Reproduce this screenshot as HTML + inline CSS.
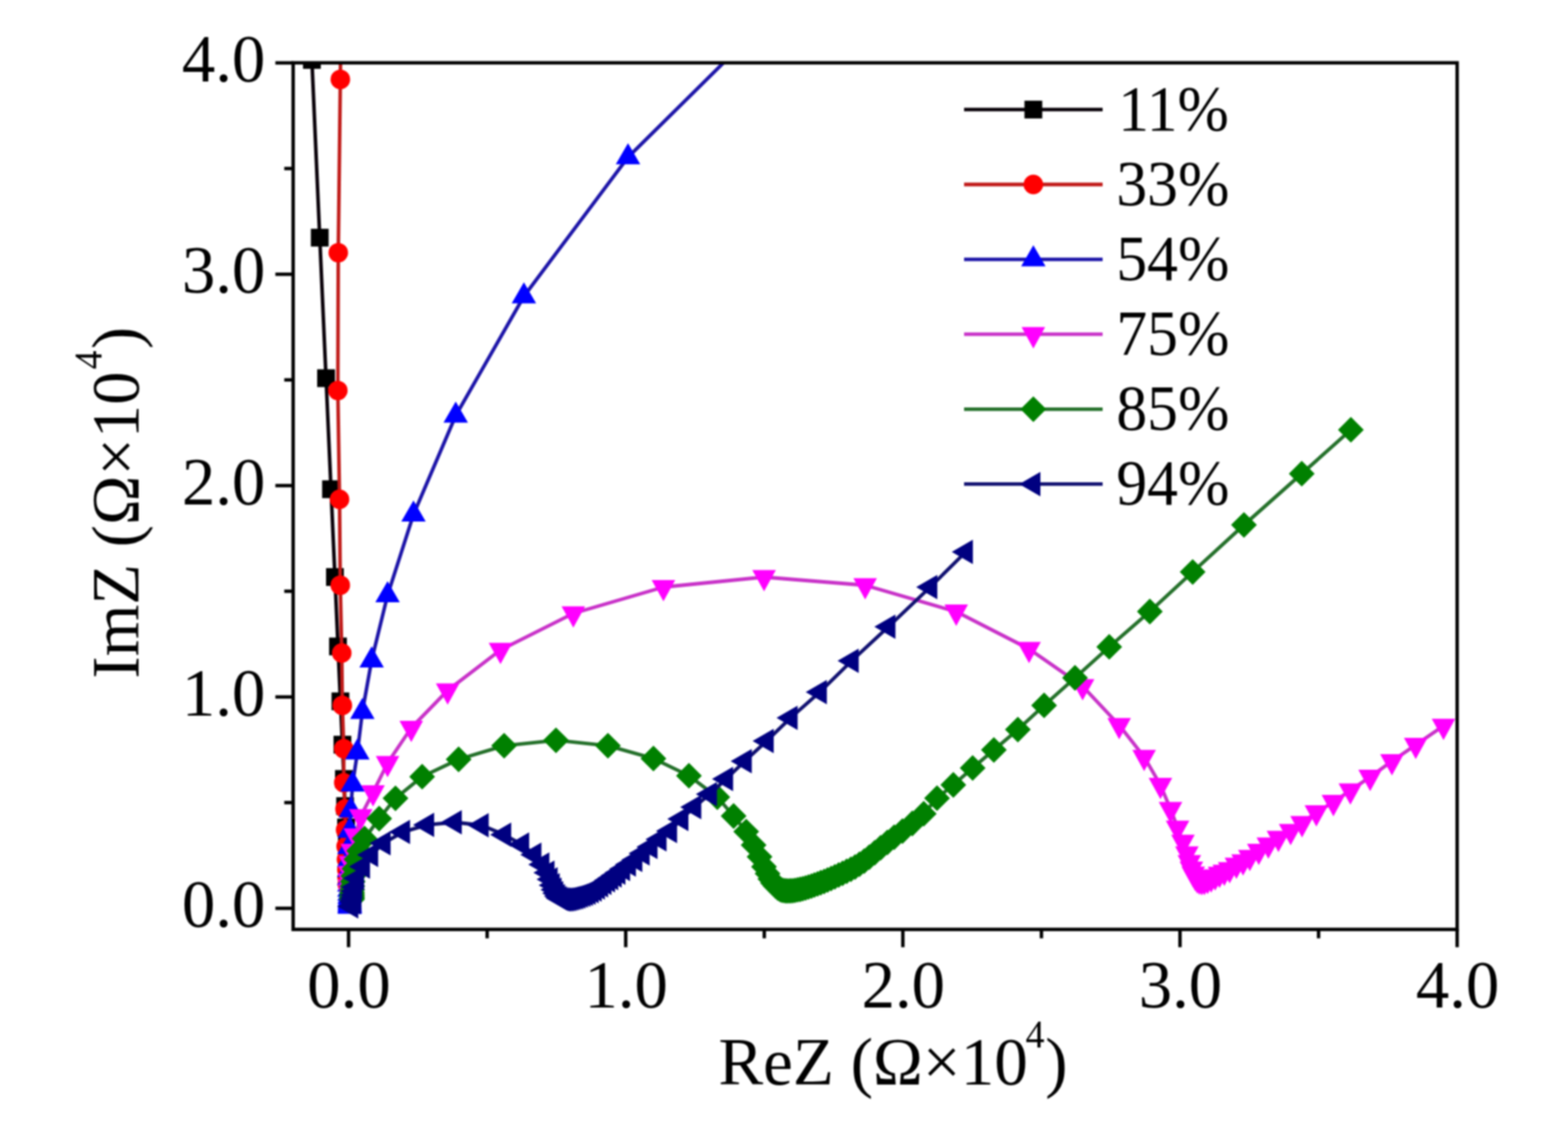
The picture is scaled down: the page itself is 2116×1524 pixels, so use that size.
<!DOCTYPE html>
<html><head><meta charset="utf-8"><style>
html,body{margin:0;padding:0;background:#fff;}
svg{display:block;filter:blur(0.8px);}
text{font-family:"Liberation Serif", "Times New Roman", serif;fill:#000;}
</style></head><body>
<svg width="2116" height="1524" viewBox="0 0 2116 1524">
<rect width="2116" height="1524" fill="#fff"/>
<defs><clipPath id="pc"><rect x="395.6" y="84.8" width="1570.8000000000002" height="1169.8"/></clipPath></defs>
<g clip-path="url(#pc)">
<polyline points="407.3,-222.6 420.9,80.9 431.5,320.8 440.0,510.5 446.7,660.4 452.0,778.9 456.1,872.6 459.4,946.7 462.1,1005.2 464.1,1051.5 465.7,1088.1 467.0,1117.0 468.1,1139.8 468.9,1157.9 469.5,1172.2 470.0,1183.5 470.4,1192.4" fill="none" stroke="#080008" stroke-width="4.8" stroke-linejoin="round"/>
<g fill="#000000"><rect x="458.4" y="1180.4" width="24" height="24"/><rect x="458.0" y="1171.5" width="24" height="24"/><rect x="457.5" y="1160.2" width="24" height="24"/><rect x="456.9" y="1145.9" width="24" height="24"/><rect x="456.1" y="1127.8" width="24" height="24"/><rect x="455.0" y="1105.0" width="24" height="24"/><rect x="453.7" y="1076.1" width="24" height="24"/><rect x="452.1" y="1039.5" width="24" height="24"/><rect x="450.1" y="993.2" width="24" height="24"/><rect x="447.4" y="934.7" width="24" height="24"/><rect x="444.1" y="860.6" width="24" height="24"/><rect x="440.0" y="766.9" width="24" height="24"/><rect x="434.7" y="648.4" width="24" height="24"/><rect x="428.0" y="498.5" width="24" height="24"/><rect x="419.5" y="308.8" width="24" height="24"/><rect x="408.9" y="68.9" width="24" height="24"/><rect x="395.3" y="-234.6" width="24" height="24"/></g>
<polyline points="462.0,-190.3 459.3,107.2 456.5,341.1 455.9,527.1 458.2,674.0 459.2,789.9 461.2,881.5 462.0,952.2 463.9,1010.7 463.9,1056.6 465.6,1092.0 466.4,1120.2 467.1,1142.4 467.6,1160.0 468.1,1173.9 468.4,1184.8 468.7,1193.5" fill="none" stroke="#c01a18" stroke-width="4.8" stroke-linejoin="round"/>
<g fill="#ff0000"><circle cx="468.7" cy="1193.5" r="13.2"/><circle cx="468.4" cy="1184.8" r="13.2"/><circle cx="468.1" cy="1173.9" r="13.2"/><circle cx="467.6" cy="1160.0" r="13.2"/><circle cx="467.1" cy="1142.4" r="13.2"/><circle cx="466.4" cy="1120.2" r="13.2"/><circle cx="465.6" cy="1092.0" r="13.2"/><circle cx="463.9" cy="1056.6" r="13.2"/><circle cx="463.9" cy="1010.7" r="13.2"/><circle cx="462.0" cy="952.2" r="13.2"/><circle cx="461.2" cy="881.5" r="13.2"/><circle cx="459.2" cy="789.9" r="13.2"/><circle cx="458.2" cy="674.0" r="13.2"/><circle cx="455.9" cy="527.1" r="13.2"/><circle cx="456.5" cy="341.1" r="13.2"/><circle cx="459.3" cy="107.2" r="13.2"/><circle cx="462.0" cy="-190.3" r="13.2"/></g>
<polyline points="1114.3,-51.7 847.5,212.2 707.0,400.0 615.0,561.0 558.0,694.5 523.0,803.5 501.5,891.5 489.0,961.0 482.3,1015.7 475.8,1059.0 473.3,1093.9 472.0,1121.6 471.4,1143.5 471.2,1160.8 471.2,1174.6 471.2,1185.5 471.4,1194.1 471.5,1200.9 471.6,1206.2 471.7,1210.4 471.8,1213.8 471.9,1216.4 471.9,1218.4 472.0,1220.1 472.0,1221.3 472.0,1222.3 472.0,1223.0 472.0,1223.6 472.0,1224.0" fill="none" stroke="#1c14a8" stroke-width="4.8" stroke-linejoin="round"/>
<g fill="#0000ff"><path d="M472.0 1205.0L488.5 1233.5H455.5Z"/><path d="M472.0 1204.6L488.5 1233.1H455.5Z"/><path d="M472.0 1204.0L488.5 1232.5H455.5Z"/><path d="M472.0 1203.3L488.5 1231.8H455.5Z"/><path d="M472.0 1202.3L488.5 1230.8H455.5Z"/><path d="M472.0 1201.1L488.5 1229.6H455.5Z"/><path d="M471.9 1199.4L488.4 1227.9H455.4Z"/><path d="M471.9 1197.4L488.4 1225.9H455.4Z"/><path d="M471.8 1194.8L488.3 1223.3H455.3Z"/><path d="M471.7 1191.4L488.2 1219.9H455.2Z"/><path d="M471.6 1187.2L488.1 1215.7H455.1Z"/><path d="M471.5 1181.9L488.0 1210.4H455.0Z"/><path d="M471.4 1175.1L487.9 1203.6H454.9Z"/><path d="M471.2 1166.5L487.7 1195.0H454.7Z"/><path d="M471.2 1155.6L487.7 1184.1H454.7Z"/><path d="M471.2 1141.8L487.7 1170.3H454.7Z"/><path d="M471.4 1124.5L487.9 1153.0H454.9Z"/><path d="M472.0 1102.6L488.5 1131.1H455.5Z"/><path d="M473.3 1074.9L489.8 1103.4H456.8Z"/><path d="M475.8 1040.0L492.3 1068.5H459.3Z"/><path d="M482.3 996.7L498.8 1025.2H465.8Z"/><path d="M489.0 942.0L505.5 970.5H472.5Z"/><path d="M501.5 872.5L518.0 901.0H485.0Z"/><path d="M523.0 784.5L539.5 813.0H506.5Z"/><path d="M558.0 675.5L574.5 704.0H541.5Z"/><path d="M615.0 542.0L631.5 570.5H598.5Z"/><path d="M707.0 381.0L723.5 409.5H690.5Z"/><path d="M847.5 193.2L864.0 221.7H831.0Z"/><path d="M1114.3 -70.7L1130.8 -42.2H1097.8Z"/></g>
<polyline points="1948.0,979.8 1910.5,1005.5 1878.4,1027.6 1849.0,1048.7 1822.3,1067.1 1799.4,1082.7 1776.4,1096.5 1757.1,1111.2 1741.7,1121.8 1725.2,1131.0 1711.6,1140.1 1698.7,1148.5 1686.6,1156.8 1677.5,1162.8 1668.5,1167.4 1659.4,1173.4 1652.2,1176.8 1645.8,1179.5 1639.9,1183.0 1634.5,1185.8 1629.7,1187.9 1625.4,1189.3 1621.8,1189.5 1618.5,1188.8 1615.6,1187.0 1612.9,1183.9 1610.3,1179.3 1607.8,1172.7 1605.0,1163.8 1601.7,1152.0 1596.4,1136.3 1589.1,1117.4 1579.6,1092.2 1566.0,1059.6 1544.0,1021.8 1510.3,978.8 1461.0,926.3 1388.7,876.0 1290.4,825.7 1167.5,790.0 1031.1,779.0 895.3,792.5 773.7,828.0 675.4,877.3 604.1,932.0 555.0,982.5 523.0,1030.0 503.4,1069.6 486.8,1101.8 479.5,1127.9 475.3,1148.7 473.0,1165.2 471.9,1178.3 471.5,1188.6 471.5,1196.6 471.7,1203.0 472.0,1208.0" fill="none" stroke="#c832c8" stroke-width="4.8" stroke-linejoin="round"/>
<g fill="#ff00ff"><path d="M472.0 1227.2L487.9 1198.4H456.1Z"/><path d="M471.7 1222.2L487.6 1193.4H455.8Z"/><path d="M471.5 1215.8L487.4 1187.0H455.6Z"/><path d="M471.5 1207.8L487.4 1179.0H455.6Z"/><path d="M471.9 1197.5L487.8 1168.7H456.0Z"/><path d="M473.0 1184.4L488.9 1155.6H457.1Z"/><path d="M475.3 1167.9L491.2 1139.1H459.4Z"/><path d="M479.5 1147.1L495.4 1118.3H463.6Z"/><path d="M486.8 1121.0L502.7 1092.2H470.9Z"/><path d="M503.4 1088.8L519.3 1060.0H487.5Z"/><path d="M523.0 1049.2L538.9 1020.4H507.1Z"/><path d="M555.0 1001.7L570.9 972.9H539.1Z"/><path d="M604.1 951.2L620.0 922.4H588.2Z"/><path d="M675.4 896.5L691.3 867.7H659.5Z"/><path d="M773.7 847.2L789.6 818.4H757.8Z"/><path d="M895.3 811.7L911.2 782.9H879.4Z"/><path d="M1031.1 798.2L1047.0 769.4H1015.2Z"/><path d="M1167.5 809.2L1183.4 780.4H1151.6Z"/><path d="M1290.4 844.9L1306.3 816.1H1274.5Z"/><path d="M1388.7 895.2L1404.6 866.4H1372.8Z"/><path d="M1461.0 945.5L1476.9 916.7H1445.1Z"/><path d="M1510.3 998.0L1526.2 969.2H1494.4Z"/><path d="M1544.0 1041.0L1559.9 1012.2H1528.1Z"/><path d="M1566.0 1078.8L1581.9 1050.0H1550.1Z"/><path d="M1579.6 1111.4L1595.5 1082.6H1563.7Z"/><path d="M1589.1 1136.6L1605.0 1107.8H1573.2Z"/><path d="M1596.4 1155.5L1612.3 1126.7H1580.5Z"/><path d="M1601.7 1171.2L1617.6 1142.4H1585.8Z"/><path d="M1605.0 1183.0L1620.9 1154.2H1589.1Z"/><path d="M1607.8 1191.9L1623.7 1163.1H1591.9Z"/><path d="M1610.3 1198.5L1626.2 1169.7H1594.4Z"/><path d="M1612.9 1203.1L1628.8 1174.3H1597.0Z"/><path d="M1615.6 1206.2L1631.5 1177.4H1599.7Z"/><path d="M1618.5 1208.0L1634.4 1179.2H1602.6Z"/><path d="M1621.8 1208.7L1637.7 1179.9H1605.9Z"/><path d="M1625.4 1208.5L1641.3 1179.7H1609.5Z"/><path d="M1629.7 1207.1L1645.6 1178.3H1613.8Z"/><path d="M1634.5 1205.0L1650.4 1176.2H1618.6Z"/><path d="M1639.9 1202.2L1655.8 1173.4H1624.0Z"/><path d="M1645.8 1198.7L1661.7 1169.9H1629.9Z"/><path d="M1652.2 1196.0L1668.1 1167.2H1636.3Z"/><path d="M1659.4 1192.6L1675.3 1163.8H1643.5Z"/><path d="M1668.5 1186.6L1684.4 1157.8H1652.6Z"/><path d="M1677.5 1182.0L1693.4 1153.2H1661.6Z"/><path d="M1686.6 1176.0L1702.5 1147.2H1670.7Z"/><path d="M1698.7 1167.7L1714.6 1138.9H1682.8Z"/><path d="M1711.6 1159.3L1727.5 1130.5H1695.7Z"/><path d="M1725.2 1150.2L1741.1 1121.4H1709.3Z"/><path d="M1741.7 1141.0L1757.6 1112.2H1725.8Z"/><path d="M1757.1 1130.4L1773.0 1101.6H1741.2Z"/><path d="M1776.4 1115.7L1792.3 1086.9H1760.5Z"/><path d="M1799.4 1101.9L1815.3 1073.1H1783.5Z"/><path d="M1822.3 1086.3L1838.2 1057.5H1806.4Z"/><path d="M1849.0 1067.9L1864.9 1039.1H1833.1Z"/><path d="M1878.4 1046.8L1894.3 1018.0H1862.5Z"/><path d="M1910.5 1024.7L1926.4 995.9H1894.6Z"/><path d="M1948.0 999.0L1963.9 970.2H1932.1Z"/></g>
<polyline points="1823.0,580.2 1756.7,639.4 1678.7,708.6 1609.5,772.1 1551.7,825.5 1496.9,873.2 1450.7,915.0 1409.0,952.2 1373.6,984.8 1341.2,1012.3 1312.6,1036.7 1286.5,1059.5 1264.5,1077.4 1246.6,1098.4 1231.2,1111.5 1217.9,1121.8 1206.7,1130.1 1197.5,1137.1 1188.4,1144.4 1180.4,1151.1 1173.0,1157.1 1166.2,1162.3 1159.8,1166.7 1153.9,1170.3 1148.3,1173.3 1142.6,1176.1 1137.1,1178.8 1131.8,1181.2 1126.6,1183.6 1121.6,1185.8 1116.8,1187.8 1112.2,1189.8 1107.6,1191.5 1103.3,1193.2 1099.0,1194.7 1095.0,1196.1 1091.0,1197.4 1087.1,1198.6 1083.4,1199.6 1079.8,1200.5 1076.3,1201.2 1072.9,1201.8 1069.7,1202.3 1066.5,1202.5 1063.4,1202.6 1060.5,1202.5 1057.7,1202.2 1055.0,1201.5 1052.6,1200.5 1049.7,1198.8 1046.6,1196.0 1043.2,1192.0 1039.6,1186.5 1035.8,1179.2 1031.0,1170.0 1025.0,1156.6 1017.0,1140.7 1007.0,1122.6 990.0,1101.5 968.0,1076.0 929.7,1047.2 881.8,1023.9 820.4,1006.6 750.3,999.3 680.3,1006.6 618.9,1025.0 569.7,1048.4 533.7,1077.6 511.7,1105.0 492.0,1132.0 484.6,1148.5 481.0,1160.0 478.3,1172.7 476.8,1182.5 476.0,1190.0 475.5,1196.2 475.3,1201.1 475.2,1205.0 475.2,1208.1 475.1,1210.5 475.1,1212.5 475.0,1214.0" fill="none" stroke="#24702a" stroke-width="4.8" stroke-linejoin="round"/>
<g fill="#008000"><path d="M475.0 1196.6L492.4 1214.0L475.0 1231.4L457.6 1214.0Z"/><path d="M475.1 1195.1L492.5 1212.5L475.1 1229.9L457.7 1212.5Z"/><path d="M475.1 1193.1L492.5 1210.5L475.1 1227.9L457.7 1210.5Z"/><path d="M475.2 1190.7L492.6 1208.1L475.2 1225.5L457.8 1208.1Z"/><path d="M475.2 1187.6L492.6 1205.0L475.2 1222.4L457.8 1205.0Z"/><path d="M475.3 1183.7L492.7 1201.1L475.3 1218.5L457.9 1201.1Z"/><path d="M475.5 1178.8L492.9 1196.2L475.5 1213.6L458.1 1196.2Z"/><path d="M476.0 1172.6L493.4 1190.0L476.0 1207.4L458.6 1190.0Z"/><path d="M476.8 1165.1L494.2 1182.5L476.8 1199.9L459.4 1182.5Z"/><path d="M478.3 1155.3L495.7 1172.7L478.3 1190.1L460.9 1172.7Z"/><path d="M481.0 1142.6L498.4 1160.0L481.0 1177.4L463.6 1160.0Z"/><path d="M484.6 1131.1L502.0 1148.5L484.6 1165.9L467.2 1148.5Z"/><path d="M492.0 1114.6L509.4 1132.0L492.0 1149.4L474.6 1132.0Z"/><path d="M511.7 1087.6L529.1 1105.0L511.7 1122.4L494.3 1105.0Z"/><path d="M533.7 1060.2L551.1 1077.6L533.7 1095.0L516.3 1077.6Z"/><path d="M569.7 1031.0L587.1 1048.4L569.7 1065.8L552.3 1048.4Z"/><path d="M618.9 1007.6L636.3 1025.0L618.9 1042.4L601.5 1025.0Z"/><path d="M680.3 989.2L697.7 1006.6L680.3 1024.0L662.9 1006.6Z"/><path d="M750.3 981.9L767.7 999.3L750.3 1016.7L732.9 999.3Z"/><path d="M820.4 989.2L837.8 1006.6L820.4 1024.0L803.0 1006.6Z"/><path d="M881.8 1006.5L899.2 1023.9L881.8 1041.3L864.4 1023.9Z"/><path d="M929.7 1029.8L947.1 1047.2L929.7 1064.6L912.3 1047.2Z"/><path d="M968.0 1058.6L985.4 1076.0L968.0 1093.4L950.6 1076.0Z"/><path d="M990.0 1084.1L1007.4 1101.5L990.0 1118.9L972.6 1101.5Z"/><path d="M1007.0 1105.2L1024.4 1122.6L1007.0 1140.0L989.6 1122.6Z"/><path d="M1017.0 1123.3L1034.4 1140.7L1017.0 1158.1L999.6 1140.7Z"/><path d="M1025.0 1139.2L1042.4 1156.6L1025.0 1174.0L1007.6 1156.6Z"/><path d="M1031.0 1152.6L1048.4 1170.0L1031.0 1187.4L1013.6 1170.0Z"/><path d="M1035.8 1161.8L1053.2 1179.2L1035.8 1196.6L1018.4 1179.2Z"/><path d="M1039.6 1169.1L1057.0 1186.5L1039.6 1203.9L1022.2 1186.5Z"/><path d="M1043.2 1174.6L1060.6 1192.0L1043.2 1209.4L1025.8 1192.0Z"/><path d="M1046.6 1178.6L1064.0 1196.0L1046.6 1213.4L1029.2 1196.0Z"/><path d="M1049.7 1181.4L1067.1 1198.8L1049.7 1216.2L1032.3 1198.8Z"/><path d="M1052.6 1183.1L1070.0 1200.5L1052.6 1217.9L1035.2 1200.5Z"/><path d="M1055.0 1184.1L1072.4 1201.5L1055.0 1218.9L1037.6 1201.5Z"/><path d="M1057.7 1184.8L1075.1 1202.2L1057.7 1219.6L1040.3 1202.2Z"/><path d="M1060.5 1185.1L1077.9 1202.5L1060.5 1219.9L1043.1 1202.5Z"/><path d="M1063.4 1185.2L1080.8 1202.6L1063.4 1220.0L1046.0 1202.6Z"/><path d="M1066.5 1185.1L1083.9 1202.5L1066.5 1219.9L1049.1 1202.5Z"/><path d="M1069.7 1184.9L1087.1 1202.3L1069.7 1219.7L1052.3 1202.3Z"/><path d="M1072.9 1184.4L1090.3 1201.8L1072.9 1219.2L1055.5 1201.8Z"/><path d="M1076.3 1183.8L1093.7 1201.2L1076.3 1218.6L1058.9 1201.2Z"/><path d="M1079.8 1183.1L1097.2 1200.5L1079.8 1217.9L1062.4 1200.5Z"/><path d="M1083.4 1182.2L1100.8 1199.6L1083.4 1217.0L1066.0 1199.6Z"/><path d="M1087.1 1181.2L1104.5 1198.6L1087.1 1216.0L1069.7 1198.6Z"/><path d="M1091.0 1180.0L1108.4 1197.4L1091.0 1214.8L1073.6 1197.4Z"/><path d="M1095.0 1178.7L1112.4 1196.1L1095.0 1213.5L1077.6 1196.1Z"/><path d="M1099.0 1177.3L1116.4 1194.7L1099.0 1212.1L1081.6 1194.7Z"/><path d="M1103.3 1175.8L1120.7 1193.2L1103.3 1210.6L1085.9 1193.2Z"/><path d="M1107.6 1174.1L1125.0 1191.5L1107.6 1208.9L1090.2 1191.5Z"/><path d="M1112.2 1172.4L1129.6 1189.8L1112.2 1207.2L1094.8 1189.8Z"/><path d="M1116.8 1170.4L1134.2 1187.8L1116.8 1205.2L1099.4 1187.8Z"/><path d="M1121.6 1168.4L1139.0 1185.8L1121.6 1203.2L1104.2 1185.8Z"/><path d="M1126.6 1166.2L1144.0 1183.6L1126.6 1201.0L1109.2 1183.6Z"/><path d="M1131.8 1163.8L1149.2 1181.2L1131.8 1198.6L1114.4 1181.2Z"/><path d="M1137.1 1161.4L1154.5 1178.8L1137.1 1196.2L1119.7 1178.8Z"/><path d="M1142.6 1158.7L1160.0 1176.1L1142.6 1193.5L1125.2 1176.1Z"/><path d="M1148.3 1155.9L1165.7 1173.3L1148.3 1190.7L1130.9 1173.3Z"/><path d="M1153.9 1152.9L1171.3 1170.3L1153.9 1187.7L1136.5 1170.3Z"/><path d="M1159.8 1149.3L1177.2 1166.7L1159.8 1184.1L1142.4 1166.7Z"/><path d="M1166.2 1144.9L1183.6 1162.3L1166.2 1179.7L1148.8 1162.3Z"/><path d="M1173.0 1139.7L1190.4 1157.1L1173.0 1174.5L1155.6 1157.1Z"/><path d="M1180.4 1133.7L1197.8 1151.1L1180.4 1168.5L1163.0 1151.1Z"/><path d="M1188.4 1127.0L1205.8 1144.4L1188.4 1161.8L1171.0 1144.4Z"/><path d="M1197.5 1119.7L1214.9 1137.1L1197.5 1154.5L1180.1 1137.1Z"/><path d="M1206.7 1112.7L1224.1 1130.1L1206.7 1147.5L1189.3 1130.1Z"/><path d="M1217.9 1104.4L1235.3 1121.8L1217.9 1139.2L1200.5 1121.8Z"/><path d="M1231.2 1094.1L1248.6 1111.5L1231.2 1128.9L1213.8 1111.5Z"/><path d="M1246.6 1081.0L1264.0 1098.4L1246.6 1115.8L1229.2 1098.4Z"/><path d="M1264.5 1060.0L1281.9 1077.4L1264.5 1094.8L1247.1 1077.4Z"/><path d="M1286.5 1042.1L1303.9 1059.5L1286.5 1076.9L1269.1 1059.5Z"/><path d="M1312.6 1019.3L1330.0 1036.7L1312.6 1054.1L1295.2 1036.7Z"/><path d="M1341.2 994.9L1358.6 1012.3L1341.2 1029.7L1323.8 1012.3Z"/><path d="M1373.6 967.4L1391.0 984.8L1373.6 1002.2L1356.2 984.8Z"/><path d="M1409.0 934.8L1426.4 952.2L1409.0 969.6L1391.6 952.2Z"/><path d="M1450.7 897.6L1468.1 915.0L1450.7 932.4L1433.3 915.0Z"/><path d="M1496.9 855.8L1514.3 873.2L1496.9 890.6L1479.5 873.2Z"/><path d="M1551.7 808.1L1569.1 825.5L1551.7 842.9L1534.3 825.5Z"/><path d="M1609.5 754.7L1626.9 772.1L1609.5 789.5L1592.1 772.1Z"/><path d="M1678.7 691.2L1696.1 708.6L1678.7 726.0L1661.3 708.6Z"/><path d="M1756.7 622.0L1774.1 639.4L1756.7 656.8L1739.3 639.4Z"/><path d="M1823.0 562.8L1840.4 580.2L1823.0 597.6L1805.6 580.2Z"/></g>
<polyline points="1303.4,744.9 1255.4,792.4 1198.9,846.0 1149.3,892.1 1106.3,934.2 1066.9,969.0 1034.6,1000.2 1005.0,1027.5 979.8,1051.5 958.0,1072.0 936.9,1089.4 919.5,1105.5 904.2,1121.7 890.0,1133.1 877.8,1143.3 867.2,1152.0 857.3,1160.7 848.7,1166.9 840.8,1172.9 834.5,1178.0 829.5,1181.8 824.8,1185.2 820.5,1188.3 815.7,1191.7 811.1,1195.0 806.8,1198.0 802.5,1200.7 798.4,1203.1 794.3,1205.0 790.7,1206.5 787.3,1207.8 783.9,1209.0 780.6,1210.2 777.5,1211.2 774.4,1212.0 771.5,1212.8 768.6,1213.4 765.8,1213.9 763.1,1214.2 760.5,1214.2 758.0,1213.8 755.4,1212.5 753.0,1209.8 750.6,1205.8 748.3,1201.1 745.9,1194.9 743.0,1187.0 738.8,1178.0 731.9,1166.9 721.1,1153.7 704.6,1140.0 680.4,1126.8 650.0,1114.0 613.7,1110.0 576.4,1113.4 543.9,1123.1 517.6,1138.2 500.8,1154.0 489.8,1169.7 481.9,1185.5 479.3,1197.4 478.5,1203.0 478.0,1208.0 477.9,1211.8 477.6,1214.5 477.4,1216.5 477.0,1218.0 474.0,1223.5" fill="none" stroke="#101070" stroke-width="4.8" stroke-linejoin="round"/>
<g fill="#000080"><path d="M455.0 1223.5L483.5 1207.0V1240.0Z"/><path d="M458.0 1218.0L486.5 1201.5V1234.5Z"/><path d="M458.4 1216.5L486.9 1200.0V1233.0Z"/><path d="M458.6 1214.5L487.1 1198.0V1231.0Z"/><path d="M458.9 1211.8L487.4 1195.3V1228.3Z"/><path d="M459.0 1208.0L487.5 1191.5V1224.5Z"/><path d="M459.5 1203.0L488.0 1186.5V1219.5Z"/><path d="M460.3 1197.4L488.8 1180.9V1213.9Z"/><path d="M462.9 1185.5L491.4 1169.0V1202.0Z"/><path d="M470.8 1169.7L499.3 1153.2V1186.2Z"/><path d="M481.8 1154.0L510.3 1137.5V1170.5Z"/><path d="M498.6 1138.2L527.1 1121.7V1154.7Z"/><path d="M524.9 1123.1L553.4 1106.6V1139.6Z"/><path d="M557.4 1113.4L585.9 1096.9V1129.9Z"/><path d="M594.7 1110.0L623.2 1093.5V1126.5Z"/><path d="M631.0 1114.0L659.5 1097.5V1130.5Z"/><path d="M661.4 1126.8L689.9 1110.3V1143.3Z"/><path d="M685.6 1140.0L714.1 1123.5V1156.5Z"/><path d="M702.1 1153.7L730.6 1137.2V1170.2Z"/><path d="M712.9 1166.9L741.4 1150.4V1183.4Z"/><path d="M719.8 1178.0L748.3 1161.5V1194.5Z"/><path d="M724.0 1187.0L752.5 1170.5V1203.5Z"/><path d="M726.9 1194.9L755.4 1178.4V1211.4Z"/><path d="M729.3 1201.1L757.8 1184.6V1217.6Z"/><path d="M731.6 1205.8L760.1 1189.3V1222.3Z"/><path d="M734.0 1209.8L762.5 1193.3V1226.3Z"/><path d="M736.4 1212.5L764.9 1196.0V1229.0Z"/><path d="M739.0 1213.8L767.5 1197.3V1230.3Z"/><path d="M741.5 1214.2L770.0 1197.7V1230.7Z"/><path d="M744.1 1214.2L772.6 1197.7V1230.7Z"/><path d="M746.8 1213.9L775.3 1197.4V1230.4Z"/><path d="M749.6 1213.4L778.1 1196.9V1229.9Z"/><path d="M752.5 1212.8L781.0 1196.3V1229.3Z"/><path d="M755.4 1212.0L783.9 1195.5V1228.5Z"/><path d="M758.5 1211.2L787.0 1194.7V1227.7Z"/><path d="M761.6 1210.2L790.1 1193.7V1226.7Z"/><path d="M764.9 1209.0L793.4 1192.5V1225.5Z"/><path d="M768.3 1207.8L796.8 1191.3V1224.3Z"/><path d="M771.7 1206.5L800.2 1190.0V1223.0Z"/><path d="M775.3 1205.0L803.8 1188.5V1221.5Z"/><path d="M779.4 1203.1L807.9 1186.6V1219.6Z"/><path d="M783.5 1200.7L812.0 1184.2V1217.2Z"/><path d="M787.8 1198.0L816.3 1181.5V1214.5Z"/><path d="M792.1 1195.0L820.6 1178.5V1211.5Z"/><path d="M796.7 1191.7L825.2 1175.2V1208.2Z"/><path d="M801.5 1188.3L830.0 1171.8V1204.8Z"/><path d="M805.8 1185.2L834.3 1168.7V1201.7Z"/><path d="M810.5 1181.8L839.0 1165.3V1198.3Z"/><path d="M815.5 1178.0L844.0 1161.5V1194.5Z"/><path d="M821.8 1172.9L850.3 1156.4V1189.4Z"/><path d="M829.7 1166.9L858.2 1150.4V1183.4Z"/><path d="M838.3 1160.7L866.8 1144.2V1177.2Z"/><path d="M848.2 1152.0L876.7 1135.5V1168.5Z"/><path d="M858.8 1143.3L887.3 1126.8V1159.8Z"/><path d="M871.0 1133.1L899.5 1116.6V1149.6Z"/><path d="M885.2 1121.7L913.7 1105.2V1138.2Z"/><path d="M900.5 1105.5L929.0 1089.0V1122.0Z"/><path d="M917.9 1089.4L946.4 1072.9V1105.9Z"/><path d="M939.0 1072.0L967.5 1055.5V1088.5Z"/><path d="M960.8 1051.5L989.3 1035.0V1068.0Z"/><path d="M986.0 1027.5L1014.5 1011.0V1044.0Z"/><path d="M1015.6 1000.2L1044.1 983.7V1016.7Z"/><path d="M1047.9 969.0L1076.4 952.5V985.5Z"/><path d="M1087.3 934.2L1115.8 917.7V950.7Z"/><path d="M1130.3 892.1L1158.8 875.6V908.6Z"/><path d="M1179.9 846.0L1208.4 829.5V862.5Z"/><path d="M1236.4 792.4L1264.9 775.9V808.9Z"/><path d="M1284.4 744.9L1312.9 728.4V761.4Z"/></g>
</g>
<rect x="395.6" y="84.8" width="1570.8000000000002" height="1169.8" fill="none" stroke="#000" stroke-width="4.6"/><line x1="470.4" y1="1254.6" x2="470.4" y2="1278.6" stroke="#000" stroke-width="4.6"/><line x1="844.4" y1="1254.6" x2="844.4" y2="1278.6" stroke="#000" stroke-width="4.6"/><line x1="1218.4" y1="1254.6" x2="1218.4" y2="1278.6" stroke="#000" stroke-width="4.6"/><line x1="1592.4" y1="1254.6" x2="1592.4" y2="1278.6" stroke="#000" stroke-width="4.6"/><line x1="1966.4" y1="1254.6" x2="1966.4" y2="1278.6" stroke="#000" stroke-width="4.6"/><line x1="657.4" y1="1254.6" x2="657.4" y2="1266.6" stroke="#000" stroke-width="4.6"/><line x1="1031.4" y1="1254.6" x2="1031.4" y2="1266.6" stroke="#000" stroke-width="4.6"/><line x1="1405.4" y1="1254.6" x2="1405.4" y2="1266.6" stroke="#000" stroke-width="4.6"/><line x1="1779.4" y1="1254.6" x2="1779.4" y2="1266.6" stroke="#000" stroke-width="4.6"/><line x1="395.6" y1="1226.1" x2="371.6" y2="1226.1" stroke="#000" stroke-width="4.6"/><line x1="395.6" y1="940.8" x2="371.6" y2="940.8" stroke="#000" stroke-width="4.6"/><line x1="395.6" y1="655.5" x2="371.6" y2="655.5" stroke="#000" stroke-width="4.6"/><line x1="395.6" y1="370.2" x2="371.6" y2="370.2" stroke="#000" stroke-width="4.6"/><line x1="395.6" y1="84.9" x2="371.6" y2="84.9" stroke="#000" stroke-width="4.6"/><line x1="395.6" y1="1083.4" x2="383.6" y2="1083.4" stroke="#000" stroke-width="4.6"/><line x1="395.6" y1="798.1" x2="383.6" y2="798.1" stroke="#000" stroke-width="4.6"/><line x1="395.6" y1="512.8" x2="383.6" y2="512.8" stroke="#000" stroke-width="4.6"/><line x1="395.6" y1="227.5" x2="383.6" y2="227.5" stroke="#000" stroke-width="4.6"/>
<line x1="1301" y1="147.9" x2="1488" y2="147.9" stroke="#080008" stroke-width="4.8"/><rect x="1382.5" y="135.9" width="24" height="24" fill="#000000"/><text transform="translate(1509,175.7) scale(0.962,1)" font-size="86.5">11%</text><line x1="1301" y1="249.0" x2="1488" y2="249.0" stroke="#c01a18" stroke-width="4.8"/><circle cx="1394.5" cy="249.0" r="13.2" fill="#ff0000"/><text transform="translate(1506.5,276.8) scale(0.962,1)" font-size="86.5">33%</text><line x1="1301" y1="350.1" x2="1488" y2="350.1" stroke="#1c14a8" stroke-width="4.8"/><polygon points="1394.5,331.1 1411.0,359.6 1378.0,359.6" fill="#0000ff"/><text transform="translate(1506.5,377.9) scale(0.962,1)" font-size="86.5">54%</text><line x1="1301" y1="451.19999999999993" x2="1488" y2="451.19999999999993" stroke="#c832c8" stroke-width="4.8"/><polygon points="1394.5,470.4 1410.4,441.6 1378.6,441.6" fill="#ff00ff"/><text transform="translate(1506.5,479.0) scale(0.962,1)" font-size="86.5">75%</text><line x1="1301" y1="552.3" x2="1488" y2="552.3" stroke="#24702a" stroke-width="4.8"/><polygon points="1394.5,534.9 1411.9,552.3 1394.5,569.7 1377.1,552.3" fill="#008000"/><text transform="translate(1506.5,580.1) scale(0.962,1)" font-size="86.5">85%</text><line x1="1301" y1="653.4" x2="1488" y2="653.4" stroke="#101070" stroke-width="4.8"/><polygon points="1375.5,653.4 1404.0,636.9 1404.0,669.9" fill="#000080"/><text transform="translate(1506.5,681.2) scale(0.962,1)" font-size="86.5">94%</text>
<text transform="translate(470.9,1360) scale(0.984,1)" font-size="91.5" text-anchor="middle">0.0</text><text transform="translate(844.9,1360) scale(0.984,1)" font-size="91.5" text-anchor="middle">1.0</text><text transform="translate(1218.9,1360) scale(0.984,1)" font-size="91.5" text-anchor="middle">2.0</text><text transform="translate(1592.9,1360) scale(0.984,1)" font-size="91.5" text-anchor="middle">3.0</text><text transform="translate(1966.9,1360) scale(0.984,1)" font-size="91.5" text-anchor="middle">4.0</text><text transform="translate(358,1251.3) scale(0.984,1)" font-size="91.5" text-anchor="end">0.0</text><text transform="translate(358,966.0) scale(0.984,1)" font-size="91.5" text-anchor="end">1.0</text><text transform="translate(358,680.7) scale(0.984,1)" font-size="91.5" text-anchor="end">2.0</text><text transform="translate(358,395.4) scale(0.984,1)" font-size="91.5" text-anchor="end">3.0</text><text transform="translate(358,110.1) scale(0.984,1)" font-size="91.5" text-anchor="end">4.0</text><text transform="translate(969.5,1464.1) scale(0.984,1)" font-size="92">ReZ (Ω×10<tspan dx="-3" dy="-50" font-size="52">4</tspan><tspan dx="1" dy="50">)</tspan></text><text transform="translate(187.3,916) rotate(-90) scale(0.977,1)" font-size="92">ImZ (Ω×10<tspan dx="3" dy="-50" font-size="52">4</tspan><tspan dx="2" dy="50">)</tspan></text>
</svg>
</body></html>
